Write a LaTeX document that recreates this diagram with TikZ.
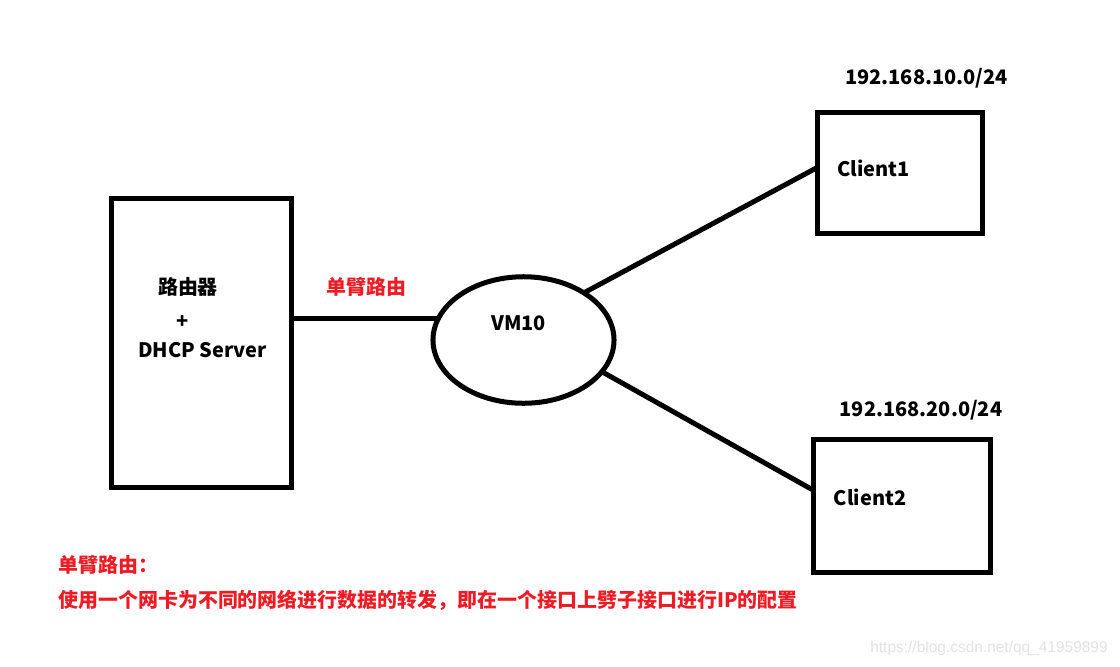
\documentclass[tikz,border=0pt]{standalone}
\usepackage{fontspec}
\setmainfont{Noto Sans CJK SC}
\newfontfamily\wmfont{Liberation Sans}
\usetikzlibrary{shapes.geometric}
\definecolor{paintred}{RGB}{237,28,36}
\definecolor{wmgray}{RGB}{226,226,226}

\begin{document}
\begin{tikzpicture}[x=0.025cm,y=-0.025cm,
  box/.style={draw,line width=0.125cm,inner sep=0pt,outer sep=0pt},
  lbl/.style={font=\fontsize{14.2}{17}\selectfont\bfseries,inner sep=0pt},
  redlbl/.style={lbl,text=paintred},
  link/.style={line width=0.125cm}]
  \useasboundingbox (0,0) rectangle (1120,666);

  \draw (201.5,343) node (router) [box,minimum width=4.5cm,minimum height=7.225cm] {};
  \draw (188,287)   node (rtname) [lbl] {路由器};
  \draw (183,322)   node (plus)   [lbl] {+};
  \draw (202.5,350) node (dhcp)   [lbl] {DHCP Server};

  \draw (523.5,340) node (vm) [box,ellipse,minimum width=4.525cm,minimum height=3.1625cm] {};
  \draw (518.5,323) node (vmname) [lbl] {VM10};
  \draw (366.5,287) node (arm) [redlbl] {单臂路由};
  \draw[link] (router.east |- vm.166) -- (vm.166);

  \draw (900,173) node (c1) [box,minimum width=4.1125cm,minimum height=3.0375cm] {};
  \draw (873.5,168) node (c1name) [lbl] {Client1};
  \draw (926.5,78)  node (net1)   [lbl] {192.168.10.0/24};
  \draw[link] (vm.38) -- (c1.176);

  \draw (902,506) node (c2) [box,minimum width=4.4125cm,minimum height=3.3125cm] {};
  \draw (870,497) node (c2name) [lbl] {Client2};
  \draw (921,410) node (net2)   [lbl] {192.168.20.0/24};
  \draw[link] (vm.-22) -- (c2.170);

  % note at the bottom
  \draw (58,565) node (notehead) [redlbl,anchor=west] {单臂路由：};
  \draw (58,600) node (notebody) [redlbl,anchor=west] {使用一个网卡为不同的网络进行数据的转发，即在一个接口上劈子接口进行IP的配置};

  \draw (989,648) node (wm) [font=\wmfont\fontsize{11}{13}\selectfont,text=wmgray,inner sep=0pt] {https://blog.csdn.net/qq\_41959899};
\end{tikzpicture}
\end{document}
